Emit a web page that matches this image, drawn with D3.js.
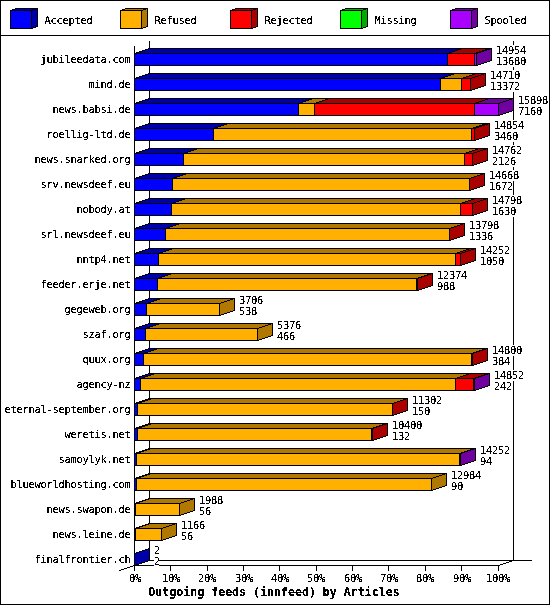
<!DOCTYPE html>
<html>
<head>
<meta charset="utf-8">
<script src="https://cdnjs.cloudflare.com/ajax/libs/d3/7.8.5/d3.min.js"></script>
<style>
html,body{margin:0;padding:0;background:#fff}
svg{display:block}
text{font-family:"DejaVu Sans Mono",monospace;font-size:10.4px;letter-spacing:-.25px;fill:#000}
</style>
</head>
<body>
<svg id="c" width="550" height="605"></svg>
<script>
const hosts = ["jubileedata.com","mind.de","news.babsi.de","roellig-ltd.de","news.snarked.org","srv.newsdeef.eu","nobody.at","srl.newsdeef.eu","nntp4.net","feeder.erje.net","gegeweb.org","szaf.org","quux.org","agency-nz","eternal-september.org","weretis.net","samoylyk.net","blueworldhosting.com","news.swapon.de","news.leine.de","finalfrontier.ch"];
const accepted = [13680,13372,7160,3460,2126,1672,1630,1336,1050,988,538,466,384,242,150,132,94,90,56,56,2];
const refused  = [0,938,704,11288,12316,12960,12636,12432,12980,11356,3168,4910,14356,13788,11130,10240,14140,12894,1932,1110,0];
const rejected = [1212,400,6998,106,320,36,532,30,222,30,0,0,60,812,22,28,0,0,0,0,0];
const missing  = [0,0,0,0,0,0,0,0,0,0,0,0,0,0,0,0,0,0,0,0,0];
const spooled  = [62,0,1036,0,0,0,0,0,0,0,0,0,0,10,0,0,18,0,0,0,0];
const totals   = [14954,14710,15898,14854,14762,14668,14798,13798,14252,12374,3706,5376,14800,14852,11302,10400,14252,12984,1988,1166,2];
const seriesNames = ["Accepted","Refused","Rejected","Missing","Spooled"];
const seriesValues = [accepted,refused,rejected,missing,spooled];
const faceColors = ["#0000ff","#ffb000","#ff0000","#00ff00","#aa00ff"];
const darkColors = ["#0000aa","#b07800","#aa0000","#00aa00","#7000a0"];
const maxTotal = 15898;
const percentTicks = [0,10,20,30,40,50,60,70,80,90,100];
const axisTitle = "Outgoing feeds (innfeed) by Articles";

const svg = d3.select("#c");
const defs = svg.append("defs");
const f = defs.append("filter").attr("id","crisp").attr("x","-5%").attr("y","-5%").attr("width","110%").attr("height","110%")
  .attr("color-interpolation-filters","sRGB");
const ct = f.append("feComponentTransfer");
ct.append("feFuncA").attr("type","discrete").attr("tableValues","0 0 1 1 1");

const crisp = g => g.attr("shape-rendering","crispEdges");
const dx = 15, dy = -5, barH = 12;
const x = d3.scaleLinear().domain([0,100]).range([134.5,498]);
const snap = v => Math.floor(v)+.5;
const xv = v => x(v/maxTotal*100);
const y = d3.scaleBand().domain(hosts).range([45.5,570.5]).paddingInner(0);
const rowTop = h => y(h)+8;

const root = svg.append("g").call(crisp);
root.append("rect").attr("x",.5).attr("y",.5).attr("width",549).attr("height",604).attr("fill","#fff").attr("stroke","#000");
root.append("line").attr("x1",0).attr("x2",550).attr("y1",35.5).attr("y2",35.5).attr("stroke","#000");

function top3d(g,x0,y0,w,d,e,dark){
  g.append("path").attr("d",`M${x0},${y0}l${d},${e}h${w}l${-d},${-e}z`).attr("fill",dark).attr("stroke","#000");
}
function face(g,x0,y0,w,h,color){
  g.append("rect").attr("x",x0).attr("y",y0).attr("width",w).attr("height",h).attr("fill",color).attr("stroke","#000");
}
function side(g,x1,y0,h,d,e,dark){
  g.append("path").attr("d",`M${x1},${y0}l${d},${e}v${h}l${-d},${-e}z`).attr("fill",dark).attr("stroke","#000");
}

// legend
seriesNames.forEach((n,i)=>{
  const lx = 10.5+110*i;
  const g = root.append("g");
  top3d(g,lx,10.5,21,6,-2,darkColors[i]);
  face(g,lx,10.5,21,18,faceColors[i]);
  side(g,lx+21,10.5,18,6,-2,darkColors[i]);
  svg.append("text").attr("class","t").attr("x",lx+34).attr("y",24).text(n);
});

// walls
const wall = root.append("g").attr("stroke","#000").attr("fill","none");
const ln = (a,b,c,d)=>wall.append("line").attr("x1",a).attr("y1",b).attr("x2",c).attr("y2",d);
const x0w = snap(x(0)), x1w = snap(x(100));
ln(x0w,45.5,x0w,565.5);
ln(x0w+dx,40.5,x0w+dx,560.5);
ln(x1w+dx,40.5,x1w+dx,560.5);
ln(x0w+dx,560.5,532,560.5);
ln(x0w,565.5,x1w,565.5);
ln(119.5,570.5,x0w+dx,560.5);
ln(x1w,565.5,x1w+dx,560.5);
percentTicks.forEach(p=>{ ln(snap(x(p)),565.5,snap(x(p)),570.5); });

// bars
hosts.forEach((h,i)=>{
  const top = rowTop(h);
  const g = root.append("g");
  let cum = 0, last = 0;
  seriesValues.forEach((s,k)=>{ if(s[i]>0) last=k; });
  seriesValues.forEach((s,k)=>{
    const v = s[i];
    if(v<=0) return;
    const x0 = snap(xv(cum)), x1 = snap(xv(cum+v));
    top3d(g,x0,top,x1-x0,dx,dy,darkColors[k]);
    face(g,x0,top,x1-x0,barH,faceColors[k]);
    if(k===last) side(g,x1,top,barH,dx,dy,darkColors[k]);
    cum += v;
  });
});

// value labels (white box hides the wall lines behind them)
const labelG = svg.append("g");
hosts.forEach((h,i)=>{
  const top = rowTop(h);
  const lx = Math.round(xv(totals[i])+dx+4.5);
  [[totals[i],-8.5,1],[accepted[i],2.5,0]].forEach(([v,o,wide])=>{
    const s = String(v);
    labelG.append("rect").attr("x",lx).attr("y",top+o).attr("width",s.length*6-(wide?0:1)).attr("height",10.5).attr("fill","#fff").attr("shape-rendering","crispEdges");
    labelG.append("text").attr("class","t").attr("x",lx).attr("y",top+o+9).text(s);
  });
});

// host labels
hosts.forEach(h=>{
  svg.append("text").attr("class","t").attr("x",130.5).attr("y",rowTop(h)+9.5).attr("text-anchor","end").text(h);
});
percentTicks.forEach(p=>{
  svg.append("text").attr("class","t").attr("x",Math.round(x(p))).attr("y",581.5).attr("text-anchor","middle").text(p+"%");
});
svg.append("text").attr("class","t").attr("x",274).attr("y",595.5).attr("text-anchor","middle")
  .style("font-weight","bold").style("font-size","11.6px").style("letter-spacing","0").text(axisTitle);
svg.selectAll("text.t").attr("filter","url(#crisp)");
</script>
</body>
</html>
